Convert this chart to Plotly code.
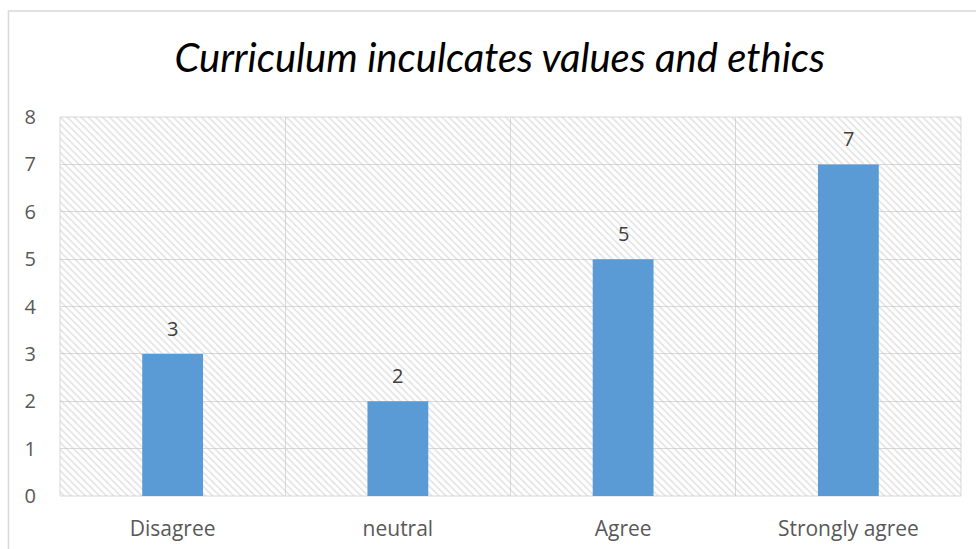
import plotly.graph_objects as go

categories = ["Disagree", "neutral", "Agree", "Strongly agree"]
values = [3, 2, 5, 7]
y_ticks = [0, 1, 2, 3, 4, 5, 6, 7, 8]
title_text = "Curriculum inculcates values and ethics"

FONT = "Open Sans"
GRID = "#d9d9d9"

fig = go.Figure()

# hatched plot-area background (decoration), on the hidden main axes
fig.add_trace(go.Scatter(
    x=[0, 1, 1, 0, 0], y=[0, 0, 1, 1, 0],
    xaxis="x", yaxis="y",
    fill="toself", mode="none",
    fillcolor="rgba(0,0,0,0)",
    fillpattern=dict(shape="\\", fgcolor="#c4c4c4", bgcolor="rgba(0,0,0,0)",
                     size=5, solidity=0.3),
    hoverinfo="skip", showlegend=False,
))

fig.add_trace(go.Bar(
    x=categories, y=values,
    xaxis="x2", yaxis="y2",
    marker=dict(color="#5b9bd5", line=dict(width=0)),
    width=0.27, showlegend=False,
))

for c, v in zip(categories, values):
    fig.add_annotation(
        x=c, y=v, xref="x2", yref="y2", text=str(v),
        showarrow=False, yanchor="bottom", yshift=10,
        font=dict(family=FONT, size=20, color="#404040"),
    )

fig.update_layout(
    width=976, height=549,
    margin=dict(l=60, r=15, t=117, b=53, autoexpand=False),
    paper_bgcolor="white", plot_bgcolor="white",
    title=dict(text=title_text, x=0.512, xanchor="center", y=0.895, yanchor="middle",
               font=dict(family="Lato", size=40, color="#000000", style="italic")),
    xaxis=dict(range=[0, 1], visible=False, fixedrange=True, automargin=False),
    yaxis=dict(range=[0, 1], visible=False, fixedrange=True, automargin=False),
    xaxis2=dict(type="category", overlaying="x", anchor="y2", side="bottom",
                tickson="boundaries", showgrid=True, gridcolor=GRID, gridwidth=1,
                ticks="", ticklabelstandoff=18, automargin=False,
                showline=False, zeroline=False,
                tickfont=dict(family=FONT, size=21, color="#595959")),
    yaxis2=dict(overlaying="y", anchor="x2", side="left",
                range=[0, 8], tickvals=y_ticks, automargin=False,
                showgrid=True, gridcolor=GRID, gridwidth=1,
                ticks="outside", ticklen=19, tickcolor="rgba(0,0,0,0)",
                showline=False, zeroline=False,
                tickfont=dict(family=FONT, size=20, color="#595959")),
)

# outer chart border (decoration)
fig.add_shape(type="rect", xref="paper", yref="paper",
              x0=-0.0572, x1=1.03, y0=-0.2, y1=1.2797,
              line=dict(color=GRID, width=1.5), fillcolor="rgba(0,0,0,0)", layer="below")
# plot-area frame edges
fig.add_shape(type="rect", xref="paper", yref="paper",
              x0=0, x1=1, y0=0, y1=1,
              line=dict(color=GRID, width=1), fillcolor="rgba(0,0,0,0)", layer="below")

fig.write_html("out.html", config={"displayModeBar": False},
               post_script="document.body.style.margin='0';")
